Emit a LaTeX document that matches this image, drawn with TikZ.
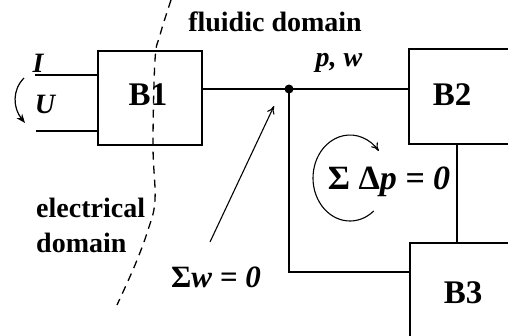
\documentclass[tikz,border=0pt]{standalone}
\usepackage{fontspec}
\setmainfont{Liberation Serif}
\usetikzlibrary{arrows.meta}
\begin{document}
\begin{tikzpicture}[x=1pt,y=-1pt,
  wire/.style={line width=1.6pt},
  blk/.style={draw, line width=1.6pt, inner sep=0pt},
  blklabel/.style={font=\fontsize{33}{36}\selectfont\bfseries},
  dom/.style={font=\fontsize{28}{30}\selectfont\bfseries, inner sep=0pt},
  var/.style={font=\fontsize{28}{30}\selectfont\bfseries\itshape, inner sep=0pt},
  eqn/.style={font=\fontsize{31}{33}\selectfont\bfseries, inner sep=0pt}]
\useasboundingbox (0,0) rectangle (508,335);
\clip (0,0) rectangle (508,335);
% blocks
\node[blk, minimum width=104pt, minimum height=94pt] (B1) at (150,98) {};
\node[blklabel] at (148,95) {B1};
\node[blk, minimum width=111pt, minimum height=95pt] (B2) at (464.5,96.5) {};
\node[blklabel] at (452,95) {B2};
\node[blk, minimum width=110pt, minimum height=100pt] (B3) at (465,293) {};
\node[blklabel] at (463,293) {B3};
% electrical terminals
\coordinate (i0) at (35,75);
\coordinate (u0) at (36,131);
\draw[wire] (i0) -- (i0 -| B1.west);
\draw[wire] (u0) -- (u0 -| B1.west);
\node[var] (I) at (38,63) {I};
\node[var] (U) at (45,104) {U};
\coordinate (ua) at (24,78);
\coordinate (ub) at (25,123);
\draw[line width=1.2pt, -{Stealth[length=9pt,width=7pt]}] (ua) .. controls (12,90) and (13,108) .. (ub);
% fluidic network
\coordinate (J) at (289,89);
\draw[wire] (B1.east |- J) -- (J) -- (J -| B2.west);
\fill (J) circle (4.5);
\coordinate (Jd) at (289,272);
\draw[wire] (J) -- (Jd) -- (Jd -| B3.west);
\coordinate (v23) at (457,0);
\draw[wire] (v23 |- B2.south) -- (v23 |- B3.north);
\node[var] (pw) at (339,63) {p, w};
% labels
\node[dom] (fd) at (275,22) {fluidic domain};
\node[dom, anchor=west] (el) at (36,208) {electrical};
\node[dom, anchor=west] (dm) at (36,243) {domain};
% domain border
\draw[line width=1.3pt, dash pattern=on 8pt off 6pt] plot[smooth, tension=0.6] coordinates {(171,0) (160,35) (155,60) (153,145) (155,200) (148,230) (135,265) (117,305)};
% node law
\node[eqn] (sw) at (216,277) {Σ\itshape w = 0};
\coordinate (sa) at (210,242);
\coordinate (sb) at (274,106);
\draw[line width=1.1pt, -{To[length=8pt,width=8pt]}] (sa) -- (sb);
% mesh law
\node[eqn, font=\fontsize{34}{36}\selectfont\bfseries] (sp) at (389,182) {Σ Δ\itshape p = 0};
\coordinate (mc) at (350,178);
\draw[line width=1.1pt, -{To[length=8pt,width=8pt]}] (mc) ++(-50:37pt and 43pt) arc[start angle=-50, end angle=-321, x radius=37pt, y radius=43pt];
\end{tikzpicture}
\end{document}
